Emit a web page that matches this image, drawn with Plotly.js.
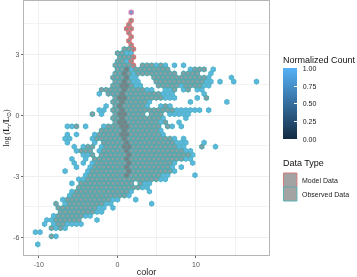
<!DOCTYPE html>
<html><head><meta charset="utf-8">
<script src="https://cdn.plot.ly/plotly-3.0.1.min.js"></script>
<style>html,body{margin:0;padding:0;background:#fff}#gd{width:357px;height:277px;filter:blur(0.35px)}</style>
</head><body><div id="gd"></div>
<script>
// Hex bins. Bin geometry (bin column / row -> colour, log L).
const binColorOrigin = -11, binColorStep = 0.58, binLumTop = 5.06, binLumStep = 0.2;
// Occupied bins per row, dense bins (as column runs)
const denseRuns = {
 9:[[20,21]],10:[[19,20]],11:[[19,21]],12:[[19,20]],13:[[18,21],[24,26],[28,28]],
 14:[[19,20],[23,30],[36,38]],15:[[18,21],[23,31],[33,36]],16:[[18,21],[27,38]],17:[[18,21],[27,37]],
 18:[[18,22],[28,32],[34,37]],19:[[15,17],[18,24],[31,31],[34,34]],20:[[17,28]],21:[[18,28],[38,38]],
 22:[[18,25]],23:[[18,24],[29,29]],24:[[18,31]],25:[[13,13],[18,24],[26,28]],26:[[18,28]],27:[[18,27],[29,29]],
 28:[[10,10],[17,28],[30,30]],29:[[15,27]],30:[[15,28]],31:[[14,30]],32:[[16,31]],33:[[12,13],[16,31],[37,37]],
 34:[[11,13],[16,33]],35:[[13,13],[15,34]],36:[[14,33]],37:[[14,30]],38:[[14,30]],39:[[13,30]],40:[[13,28]],
 41:[[12,27]],42:[[11,22],[24,24]],43:[[10,23]],44:[[10,21]],45:[[9,20]],46:[[8,17]],47:[[5,5],[8,15]],
 48:[[6,14]],49:[[6,13]],50:[[6,11]],51:[[5,10]],52:[[6,7]],53:[[4,4],[6,6]],55:[[4,4]]
};
// Occupied bins per row, sparse bins (single columns)
const sparseCols = {
 10:[21,22],12:[21],13:[27,29,31,33],14:[21,22,35,40],15:[22,39],16:[22,23,39,44],17:[22,23,38,39,41,44,49],
 18:[23,24,33,38,39],19:[25,26,29,30,33,36,37],20:[15,29,30,31,38],21:[29,30,31,36],22:[26,35,43],23:[16,25,28,30],
 24:[15,16,32,33,34,35,36,37,39],25:[15,30,31,32,33,34],26:[29,34],27:[28,32],28:[8,9,12,16,31,33],29:[28],
 30:[8,10,14,29],31:[7,8,13,31,33],32:[8,14,32,33,34,38],33:[9,11,15,32,33,40],34:[10,15,34,35],35:[11,12,35],
 36:[9,12,34,35],37:[9,11,13,31,35],38:[10,13,31,33],39:[7,12,31],40:[12,29,30,36],41:[10,11,28,29],42:[9,25,26],
 43:[24,25],44:[9,22,26],45:[8,21],46:[7,18,19,23],47:[7,16,17,26],48:[15,16,18],49:[14,15],50:[5,12,13],51:[3,4,14],
 52:[3,5,8,9,10,11],53:[5,7],54:[1,2],55:[5],57:[1]
};
// Model Data bins standing alone above the cloud
const modelTopCols = {2:[22],3:[21],4:[21,22],5:[21],6:[22],7:[21],8:[22],9:[22],11:[22],12:[22],13:[22]};
const modelBlueCols = {0:[22]};
// Model Data bins overlapping the observed cloud
const overlapCols = {14:[21],15:[20],16:[21],17:[20],18:[20,21],19:[20],20:[20],21:[19,20],22:[20],23:[19],24:[20],25:[19,20],
 26:[20],27:[19,20],28:[20,21],29:[20],30:[20,21],31:[20],32:[21],33:[20,21],34:[21],35:[21],36:[21],37:[21],38:[21],39:[21],40:[21]};

const xTicks = [-10,0,10], xLabels = ['-10','0','10'];
const yTicks = [-6,-3,0,3], yLabels = ['-6','-3','0','3'];
const scaleTicks = [0,0.25,0.5,0.75,1], scaleLabels = ['0.00','0.25','0.50','0.75','1.00'];
const legendNames = ['Model Data','Observed Data'];

function binX(r,c){return binColorOrigin + (c + (r%2?0.5:0))*binColorStep;}
function binY(r){return binLumTop - r*binLumStep;}
function fromCols(tbl){const x=[],y=[];for(const r in tbl){for(const c of tbl[r]){x.push(binX(+r,c));y.push(binY(+r));}}return {x,y};}
function fromRuns(tbl){const t={};for(const r in tbl){t[r]=[];for(const [a,b] of tbl[r]){for(let c=a;c<=b;c++)t[r].push(c);}}return fromCols(t);}
function hexTrace(d,fill,line){return {type:'scatter',mode:'markers',x:d.x,y:d.y,hoverinfo:'skip',showlegend:false,
  marker:{symbol:'hexagon',size:4.6,color:fill,line:{color:line,width:1.4}}};}

const traces = [
 hexTrace(fromCols(sparseCols),'#5cb8e6','#56b6cc'),
 hexTrace(fromCols(modelTopCols),'#8f8f8f','#d57a7e'),
 hexTrace(fromCols(modelBlueCols),'#5f9fdc','#cf85b0'),
 hexTrace(fromRuns(denseRuns),'#939c9e','#58a8ae'),
 hexTrace(fromCols(overlapCols),'#7d7d7f','#6a8e92'),
 {type:'scatter',mode:'markers',x:[null],y:[null],hoverinfo:'skip',showlegend:false,
  marker:{color:[0],cmin:0,cmax:1,colorscale:[[0,'#132B43'],[1,'#56B1F7']],showscale:true,
   colorbar:{xref:'container',yref:'container',x:283/357,xanchor:'left',y:1-152/277,yanchor:'bottom',
     lenmode:'pixels',len:71,thicknessmode:'pixels',thickness:14,outlinewidth:0,borderwidth:0,xpad:0,ypad:0,
     tickmode:'array',tickvals:scaleTicks,ticktext:scaleLabels.map(s=>'\u00a0\u00a0'+s),ticks:'inside',ticklen:3,tickcolor:'#fff',tickwidth:0.6,
     tickfont:{size:7,color:'#222',family:'Liberation Sans'}}}}
];
const gridC='#efefef';
const px=v=>(v-23.5)/245.5, py=v=>(255-v)/254;
function note(x,y,text,size,color){return {xref:'paper',yref:'paper',x:px(x),y:py(y),xanchor:'left',yanchor:'middle',showarrow:false,borderpad:0,borderwidth:0,text:text,font:{size:size,color:color}};}
const layout = {
 width:357,height:277,margin:{l:23.5,r:88,t:1,b:22},paper_bgcolor:'#fff',plot_bgcolor:'#fff',showlegend:false,
 font:{family:'Liberation Sans'},
 xaxis:{range:[-11.88,19.3],tickmode:'array',tickvals:xTicks,ticktext:xLabels,showgrid:true,gridcolor:gridC,gridwidth:1,zeroline:false,
   ticks:'outside',ticklen:2,tickwidth:0.8,tickcolor:'#666',tickfont:{size:7,color:'#555'},
   minor:{tickmode:'array',tickvals:[-5,5,15],showgrid:true,gridcolor:'#f3f3f3',gridwidth:0.7,ticks:''},
   showline:true,mirror:true,linecolor:'#b5b5b5',linewidth:1.2,
   title:{text:'color',font:{size:9,color:'#222'},standoff:3}},
 yaxis:{range:[-6.86,5.62],tickmode:'array',tickvals:yTicks,ticktext:yLabels,showgrid:true,gridcolor:gridC,gridwidth:1,zeroline:false,
   ticks:'outside',ticklen:2,tickwidth:0.8,tickcolor:'#666',tickfont:{size:7,color:'#555'},
   minor:{tickmode:'array',tickvals:[-4.5,-1.5,1.5,4.5],showgrid:true,gridcolor:'#f3f3f3',gridwidth:0.7,ticks:''},
   showline:true,mirror:true,linecolor:'#b5b5b5',linewidth:1.2,
   title:{text:'log (<b>L</b><sub>r</sub>/<b>L</b><sub>⊙</sub>)',font:{size:8,color:'#222',family:'Liberation Serif'},standoff:2}},
 shapes:[
  {type:'rect',xref:'paper',yref:'paper',x0:px(283.5),x1:px(297),y0:py(187),y1:py(173),fillcolor:'#a3a3a3',line:{color:'#d17c7f',width:1}},
  {type:'rect',xref:'paper',yref:'paper',x0:px(283.5),x1:px(297),y0:py(201),y1:py(187),fillcolor:'#a3a3a3',line:{color:'#5bb0b4',width:1}}
 ],
 annotations:[
  note(283,60,'Normalized Count',9,'#111'),
  note(283,163,'Data Type',9,'#111'),
  note(302,180,legendNames[0],7,'#222'),
  note(302,194,legendNames[1],7,'#222')
 ]
};
Plotly.newPlot('gd',traces,layout,{displayModeBar:false,responsive:false});
</script></body></html>
